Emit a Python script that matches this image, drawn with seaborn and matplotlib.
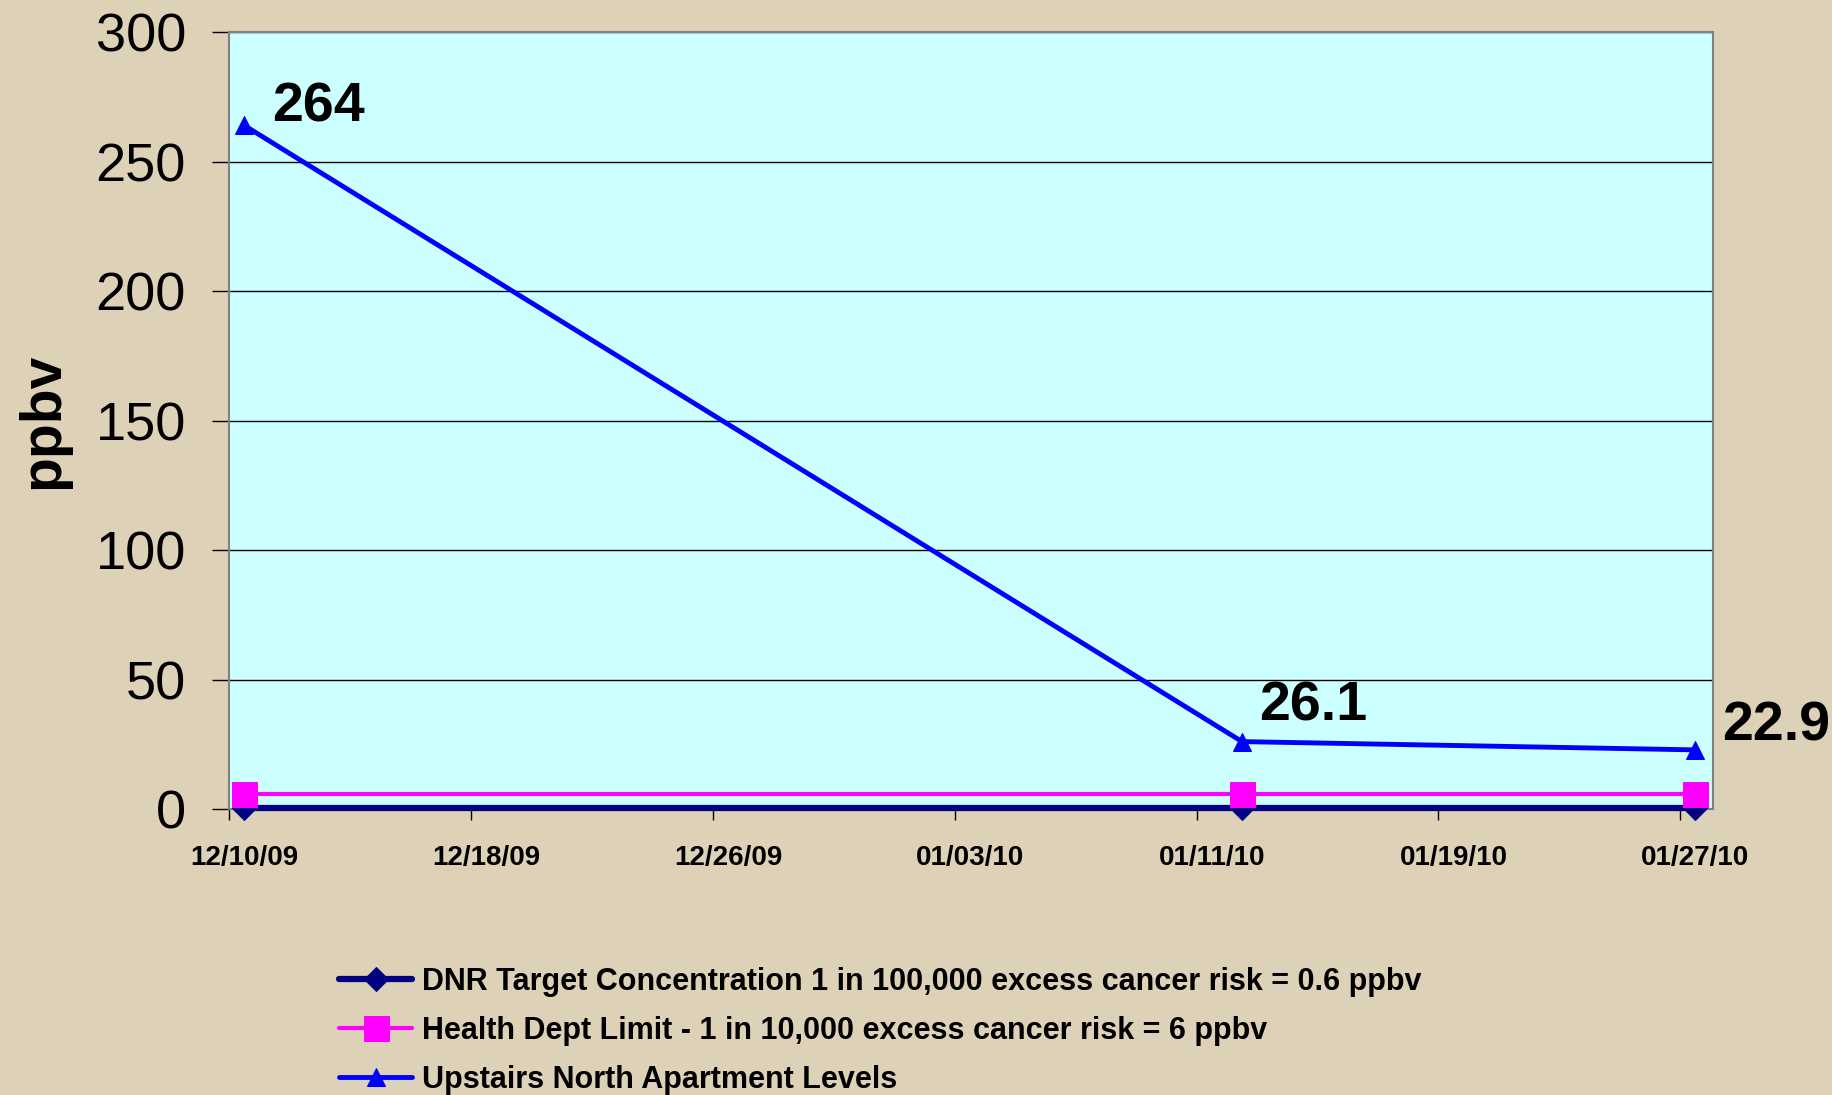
import pandas as pd
import matplotlib
matplotlib.use('Agg')
import matplotlib.pyplot as plt
import seaborn as sns

# Sample dates and measured / reference levels (ppbv)
dates = ['2009-12-10', '2010-01-12', '2010-01-27']
dnr_target = [0.6, 0.6, 0.6]
health_limit = [6, 6, 6]
upstairs_north = [264, 26.1, 22.9]
point_labels = ['264', '26.1', '22.9']

series_names = ['DNR Target Concentration 1 in 100,000 excess cancer risk = 0.6 ppbv',
                'Health Dept Limit - 1 in 10,000 excess cancer risk = 6 ppbv',
                'Upstairs North Apartment Levels']
tick_labels = ['12/10/09', '12/18/09', '12/26/09', '01/03/10', '01/11/10', '01/19/10', '01/27/10']
y_ticks = [0, 50, 100, 150, 200, 250, 300]

colors = ['#000080', '#FF00FF', '#0000FF']
markers = ['D', 's', '^']
marker_sizes = [12, 18, 13]
line_widths = [4.5, 3, 3.5]

sns.set_style('white')
plt.rcParams['font.family'] = ['Liberation Sans', 'DejaVu Sans']
plt.rcParams['text.color'] = 'black'
plt.rcParams['xtick.color'] = 'black'
plt.rcParams['ytick.color'] = 'black'
plt.rcParams['axes.labelcolor'] = 'black'

df = pd.DataFrame({'date': pd.to_datetime(dates),
                   series_names[0]: dnr_target,
                   series_names[1]: health_limit,
                   series_names[2]: upstairs_north})

fig = plt.figure(figsize=(18.33, 10.95), dpi=100)
fig.patch.set_facecolor('#DDD1B7')
ax = fig.add_axes([0.125, 0.261, 0.8096, 0.7096])
ax.set_facecolor('#CCFFFF')

for name, c, m, ms, lw in zip(series_names, colors, markers, marker_sizes, line_widths):
    sns.lineplot(data=df, x='date', y=name, ax=ax, color=c, marker=m, markersize=ms,
                 markeredgecolor=c, linewidth=lw, label=name, clip_on=False, zorder=3)

# value labels for the apartment series
offsets = [(20, 13), (12, 25), (19, 17)]
for d, v, txt, off in zip(df['date'], upstairs_north, point_labels, offsets):
    ax.annotate(txt, (d, v), xytext=off, textcoords='offset points',
                ha='left', va='center', fontsize=40, fontweight='bold', annotation_clip=False)

# axes
tick_dates = pd.to_datetime(tick_labels, format='%m/%d/%y')
ax.set_xlim(pd.Timestamp('2009-12-09 12:00'), pd.Timestamp('2010-01-27 14:00'))
ax.set_xticks(tick_dates)
ax.set_xticklabels(tick_labels, fontweight='bold')
ax.set_xticks(tick_dates - pd.Timedelta(hours=12), minor=True)
ax.tick_params(axis='x', which='major', length=0, pad=26, labelsize=20)
ax.tick_params(axis='x', which='minor', bottom=True, length=8, width=1, color='black', direction='out')

ax.set_ylim(0, 300)
ax.set_yticks(y_ticks)
ax.tick_params(axis='y', left=True, length=12, width=1, color='black', direction='out',
               pad=19, labelsize=39)
ax.yaxis.grid(True, color='black', linewidth=1)
ax.set_axisbelow(True)

ax.set_xlabel('')
ax.set_ylabel('ppbv', fontsize=41, fontweight='bold', labelpad=18)

for s in ax.spines.values():
    s.set_color('#808080')
    s.set_linewidth(1.5)

handles, labels = ax.get_legend_handles_labels()
ax.get_legend().remove()
fig.legend(handles, labels, loc='upper left', bbox_to_anchor=(0.185, 0.117),
           frameon=False, prop={'weight': 'bold', 'size': 22},
           handlelength=2.4, handletextpad=0.3, labelspacing=0.62,
           borderaxespad=0, borderpad=0)

plt.savefig('out.png', dpi=100, facecolor=fig.get_facecolor())
